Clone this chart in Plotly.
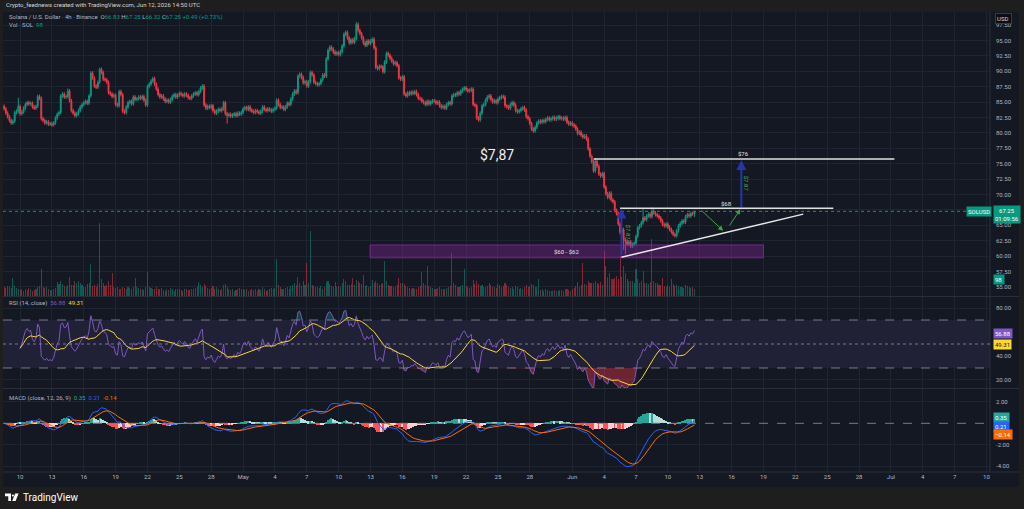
import numpy as np
import pandas as pd
import plotly.graph_objects as go
from plotly.subplots import make_subplots

# ---------------- DATA (4h candles, SOL/USD) ----------------
START = "2026-04-08 12:00"
FIRST_OPEN = 84.3

closes = [
    83.9, 83.2, 82.6,                                   # Apr 8
    82.0, 81.6, 81.9, 83.3, 83.5, 84.3,                 # Apr 9
    83.1, 83.4, 84.0, 84.6, 84.9, 84.7,                 # Apr 10
    84.8, 84.2, 84.0, 84.3, 85.9, 85.6,                 # Apr 11
    82.3, 82.0, 81.6, 81.8, 81.4, 81.5,                 # Apr 12
    81.3, 81.6, 82.4, 83.0, 83.3, 86.0,                 # Apr 13
    86.3, 85.8, 85.9, 86.8, 85.2, 83.6,                 # Apr 14
    83.2, 82.8, 83.1, 83.6, 84.2, 84.6,                 # Apr 15
    84.9, 85.1, 84.8, 86.0, 89.7, 88.9,                 # Apr 16
    87.6, 87.4, 88.2, 90.3, 89.8, 88.7,                 # Apr 17
    88.6, 88.2, 86.5, 86.3, 85.9, 86.1,                 # Apr 18
    84.6, 84.4, 86.7, 86.2, 83.5, 83.3,                 # Apr 19
    84.2, 84.9, 85.1, 84.7, 85.8, 85.4,                 # Apr 20
    85.5, 85.8, 85.6, 85.9, 85.3, 84.5,                 # Apr 21
    87.5, 87.9, 88.4, 88.8, 87.9, 87.1,                 # Apr 22
    86.2, 85.8, 86.0, 85.5, 85.1, 85.3,                 # Apr 23
    85.0, 85.4, 85.9, 86.2, 85.8, 86.1,                 # Apr 24
    86.4, 86.2, 86.0, 86.3, 86.1, 85.7,                 # Apr 25
    85.6, 86.0, 86.3, 86.5, 86.2, 86.7,                 # Apr 26
    87.3, 87.6, 84.5, 84.0, 84.3, 84.1,                 # Apr 27
    84.4, 83.6, 83.2, 83.5, 83.8, 83.6,                 # Apr 28
    83.9, 84.9, 83.1, 82.8, 83.0, 82.7,                 # Apr 29
    82.9, 83.1, 82.8, 83.2, 83.0, 83.3,                 # Apr 30
    83.9, 84.1, 83.8, 84.2, 83.7, 83.5,                 # May 1
    83.3, 83.6, 83.4, 83.2, 83.5, 84.2,                 # May 2
    83.8, 83.6, 83.9, 83.7, 83.5, 83.8,                 # May 3
    84.0, 85.3, 84.6, 84.1, 84.2, 83.8,                 # May 4
    84.2, 84.8, 84.6, 85.5, 86.3, 86.8,                 # May 5
    86.5, 89.2, 89.5, 89.0, 88.1, 88.3,                 # May 6
    87.6, 88.3, 89.8, 89.4, 88.2, 88.0,                 # May 7
    87.8, 88.0, 88.6, 89.4, 89.2, 92.0,                 # May 8
    93.4, 93.9, 93.6, 93.1, 92.8, 93.0,                 # May 9
    92.7, 93.2, 94.1, 96.0, 96.3, 95.4,                 # May 10
    94.6, 95.1, 94.7, 95.3, 97.6, 96.6,                 # May 11
    96.1, 95.4, 94.6, 94.2, 94.9, 94.5,                 # May 12
    94.9, 95.2, 93.8, 90.6, 90.4, 90.8,                 # May 13
    90.7, 89.9, 91.5, 92.9, 92.6, 92.1,                 # May 14
    91.6, 91.2, 91.4, 90.9, 88.9, 88.7,                 # May 15
    89.1, 86.3, 86.0, 86.5, 86.3, 86.6,                 # May 16
    86.4, 86.7, 86.2, 85.6, 85.5, 85.1,                 # May 17
    84.9, 84.6, 85.1, 84.7, 85.0, 85.2,                 # May 18
    85.1, 84.8, 85.0, 84.4, 84.1, 84.3,                 # May 19
    84.0, 84.6, 84.9, 84.7, 86.0, 86.2,                 # May 20
    86.1, 86.5, 86.3, 86.8, 87.1, 87.3,                 # May 21
    87.0, 86.8, 86.9, 87.1, 84.6, 84.4,                 # May 22
    82.4, 82.1, 83.2, 84.4, 84.6, 85.3,                 # May 23
    85.8, 86.0, 85.4, 85.0, 85.2, 84.9,                 # May 24
    85.5, 85.7, 85.9, 85.8, 84.4, 84.2,                 # May 25
    84.0, 84.6, 84.9, 84.5, 83.6, 83.4,                 # May 26
    83.6, 83.9, 84.1, 83.7, 82.6, 82.3,                 # May 27
    81.5, 80.6, 80.3, 80.9, 81.6, 81.9,                 # May 28
    81.7, 82.0, 81.8, 82.2, 82.4, 82.1,                 # May 29
    82.3, 82.5, 82.2, 82.4, 82.6, 82.3,                 # May 30
    82.4, 82.2, 82.5, 81.7, 81.4, 81.6,                 # May 31
    81.3, 81.1, 80.6, 79.9, 80.1, 79.6,                 # Jun 1
    79.3, 79.5, 79.0, 77.4, 76.2, 75.3,                 # Jun 2
    73.8, 75.4, 74.6, 73.3, 73.0, 73.4,                 # Jun 3
    71.2, 70.1, 69.5, 70.2, 69.1, 68.8,                 # Jun 4
    67.4, 66.9, 65.2, 63.8, 64.3, 62.7,                 # Jun 5
    62.4, 61.9, 62.3, 61.6, 61.9, 62.1,                 # Jun 6
    63.2, 64.6, 64.9, 65.4, 66.2, 65.9,                 # Jun 7
    66.5, 66.8, 66.4, 67.3, 67.0, 66.7,                 # Jun 8
    66.5, 66.2, 65.7, 65.1, 64.9, 65.2,                 # Jun 9
    64.7, 64.3, 63.9, 63.5, 63.3, 64.1,                 # Jun 10
    64.9, 65.3, 65.7, 65.5, 66.4, 66.7,                 # Jun 11
    66.5, 66.9, 66.83, 67.25,                           # Jun 12
]

volumes = [  # thousand SOL
    140, 120, 150,
    140, 120, 270, 150, 120, 100,
    90, 110, 80, 100, 90, 120,
    100, 80, 90, 110, 130, 150,
    400, 140, 120, 130, 100, 90,
    90, 110, 120, 210, 180, 220,
    180, 150, 140, 160, 290, 160,
    170, 230, 200, 220, 190, 160,
    140, 130, 180, 200, 480, 150,
    160, 140, 180, 1100, 260, 190,
    150, 170, 220, 160, 345, 130,
    120, 140, 110, 100, 130, 120,
    110, 130, 120, 100, 140, 270,
    130, 120, 100, 110, 90, 140,
    360, 140, 120, 110, 100, 130,
    110, 100, 120, 90, 80, 110,
    90, 120, 100, 80, 110, 100,
    100, 90, 80, 110, 100, 90,
    90, 110, 100, 120, 130, 210,
    160, 130, 180, 150, 120, 110,
    120, 150, 110, 130, 100, 90,
    110, 160, 180, 140, 100, 90,
    100, 80, 90, 110, 120, 100,
    110, 90, 100, 80, 90, 100,
    90, 110, 80, 100, 90, 130,
    100, 80, 90, 110, 120, 100,
    120, 555, 160, 130, 110, 100,
    120, 140, 110, 150, 170, 195,
    160, 285, 200, 150, 220, 170,
    495, 200, 975, 160, 150, 140,
    130, 120, 150, 110, 140, 210,
    220, 180, 150, 130, 210, 140,
    150, 140, 195, 250, 220, 160,
    170, 180, 270, 160, 240, 220,
    200, 180, 315, 150, 160, 140,
    150, 240, 200, 230, 190, 170,
    180, 200, 525, 220, 170, 150,
    150, 130, 140, 160, 270, 190,
    200, 180, 150, 130, 120, 110,
    120, 110, 100, 130, 150, 360,
    200, 170, 450, 150, 130, 120,
    110, 100, 120, 130, 110, 100,
    110, 120, 130, 150, 645, 200,
    160, 140, 130, 150, 170, 405,
    150, 130, 120, 140, 240, 180,
    220, 180, 150, 160, 140, 130,
    150, 200, 170, 140, 130, 120,
    180, 160, 140, 150, 200, 170,
    130, 120, 140, 110, 150, 130,
    110, 120, 100, 130, 160, 140,
    150, 180, 160, 130, 140, 255,
    90, 100, 80, 110, 90, 80,
    80, 70, 90, 80, 70, 85,
    90, 80, 100, 110, 90, 80,
    100, 120, 150, 210, 130, 160,
    495, 180, 160, 225, 200, 190,
    190, 220, 200, 180, 210, 170,
    675, 450, 280, 345, 260, 250,
    270, 300, 260, 600, 280, 450,
    350, 255, 230, 220, 225, 200,
    405, 250, 200, 220, 375, 190,
    200, 180, 210, 855, 220, 200,
    190, 170, 160, 270, 150, 140,
    160, 140, 255, 180, 150, 170,
    150, 140, 130, 120, 160, 150,
    140, 120, 130, 98,
]

WICK = 0.3
high_extremes = {"2026-04-09 20:00": 85.7, "2026-04-14 12:00": 87.2, "2026-05-11 16:00": 98.0,
                 "2026-06-03 04:00": 75.9, "2026-06-08 12:00": 67.9, "2026-06-07 16:00": 67.6,
                 "2026-06-12 12:00": 67.25}
low_extremes = {"2026-04-29 12:00": 81.5, "2026-05-23 04:00": 81.8, "2026-06-05 20:00": 61.0,
                "2026-06-06 00:00": 60.3, "2026-06-12 12:00": 66.32}

# x-axis ticks
tick_dates = ["2026-04-10", "2026-04-13", "2026-04-16", "2026-04-19", "2026-04-22", "2026-04-25",
              "2026-04-28", "2026-05-01", "2026-05-04", "2026-05-07", "2026-05-10", "2026-05-13",
              "2026-05-16", "2026-05-19", "2026-05-22", "2026-05-25", "2026-05-28", "2026-06-01",
              "2026-06-04", "2026-06-07", "2026-06-10", "2026-06-13", "2026-06-16", "2026-06-19",
              "2026-06-22", "2026-06-25", "2026-06-28", "2026-07-01", "2026-07-04", "2026-07-07",
              "2026-07-10"]
tick_labels = ["10", "13", "16", "19", "22", "25", "28", "May", "4", "7", "10", "13", "16", "19",
               "22", "25", "28", "Jun", "4", "7", "10", "13", "16", "19", "22", "25", "28", "Jul",
               "4", "7", "10"]
price_ticks = [55.0, 57.5, 60.0, 62.5, 65.0, 67.5, 70.0, 72.5, 75.0, 77.5, 80.0, 82.5, 85.0,
               87.5, 90.0, 92.5, 95.0, 97.5]
price_hidden = [67.5]   # label covered by the last-price tag in the reference
rsi_ticks = [20, 40, 60, 80]
macd_ticks = [-4, -2, 2]

# drawings
LEVEL_TARGET = 75.75
LEVEL_RES = 67.75
ZONE = (59.7, 61.8)
SUPPORT = (("2026-06-05 15:00", 59.8), ("2026-06-22 18:00", 66.8))

# ---------------- DERIVED ----------------
assert len(closes) == len(volumes)
ts = pd.date_range(START, periods=len(closes), freq="4h")
c = np.array(closes, dtype=float)
o = np.concatenate([[FIRST_OPEN], c[:-1]])
hi = np.maximum(o, c) + WICK
lo = np.minimum(o, c) - WICK
tindex = {t.strftime("%Y-%m-%d %H:%M"): i for i, t in enumerate(ts)}
for k, v in high_extremes.items():
    hi[tindex[k]] = max(v, max(o[tindex[k]], c[tindex[k]]))
for k, v in low_extremes.items():
    lo[tindex[k]] = min(v, min(o[tindex[k]], c[tindex[k]]))

s = pd.Series(c)
d = s.diff()
ag = d.clip(lower=0).ewm(alpha=1 / 14, adjust=True, min_periods=9).mean()
al = (-d.clip(upper=0)).ewm(alpha=1 / 14, adjust=True, min_periods=9).mean()
rsi = 100 * ag / (ag + al)
rsi_ma = rsi.rolling(14, min_periods=1).mean()
macd = s.ewm(span=12, adjust=False).mean() - s.ewm(span=26, adjust=False).mean()
signal = macd.ewm(span=9, adjust=False).mean()
hist = macd - signal

UP, DN = "#089981", "#f23645"
vol_cols = ["rgba(8,153,129,0.5)" if cc >= oo else "rgba(242,54,69,0.5)" for oo, cc in zip(o, c)]
hcols = []
for i, h in enumerate(hist):
    p = hist.iloc[i - 1] if i > 0 else h
    if h >= 0:
        hcols.append("#26a69a" if h >= p else "#b2dfdb")
    else:
        hcols.append("#ffcdd2" if h > p else "#ff5252")

# ---------------- LAYOUT HELPERS ----------------
W, H = 1024, 509
ML, MR, MT, MB = 3, 34, 12, 37
PW, PH = W - ML - MR, H - MT - MB


def px(x):
    return (x - ML) / PW


def py(y):
    return (H - MB - y) / PH


BG = "#141823"
OUT = "#1e1e1e"
GRID = "#1f2431"
TXT = "#b2b5be"
FONT = "Roboto, Arial, sans-serif"

fig = make_subplots(rows=3, cols=1, shared_xaxes=True, vertical_spacing=0,
                    specs=[[{"secondary_y": True}], [{}], [{}]])

# volume (primary, hidden axis) and candles (secondary = price scale)
fig.add_trace(go.Bar(x=ts, y=volumes, marker_color=vol_cols, marker_line_width=0,
                     width=4 * 3600 * 1000 * 0.6, hoverinfo="skip"), row=1, col=1, secondary_y=False)
fig.add_trace(go.Candlestick(x=ts, open=o, high=hi, low=lo, close=c,
                             increasing=dict(line=dict(color=UP, width=1), fillcolor=UP),
                             decreasing=dict(line=dict(color=DN, width=1), fillcolor=DN),
                             whiskerwidth=0, hoverinfo="skip"), row=1, col=1, secondary_y=True)

# RSI
rsi_lo = np.where(rsi < 30, rsi, 30)
rsi_hi = np.where(rsi > 70, rsi, 70)
fig.add_trace(go.Scatter(x=ts, y=[30] * len(ts), mode="lines", line=dict(width=0), hoverinfo="skip"), row=2, col=1)
fig.add_trace(go.Scatter(x=ts, y=rsi_lo, mode="lines", line=dict(width=0), fill="tonexty",
                         fillcolor="rgba(242,54,69,0.40)", hoverinfo="skip"), row=2, col=1)
fig.add_trace(go.Scatter(x=ts, y=[70] * len(ts), mode="lines", line=dict(width=0), hoverinfo="skip"), row=2, col=1)
fig.add_trace(go.Scatter(x=ts, y=rsi_hi, mode="lines", line=dict(width=0), fill="tonexty",
                         fillcolor="rgba(8,153,129,0.35)", hoverinfo="skip"), row=2, col=1)
fig.add_trace(go.Scatter(x=ts, y=rsi, mode="lines", line=dict(color="#7e57c2", width=1), hoverinfo="skip"), row=2, col=1)
fig.add_trace(go.Scatter(x=ts, y=rsi_ma, mode="lines", line=dict(color="#fdd835", width=1), hoverinfo="skip"), row=2, col=1)

# MACD
fig.add_trace(go.Bar(x=ts, y=hist, marker_color=hcols, marker_line_width=0,
                     width=4 * 3600 * 1000 * 0.7, hoverinfo="skip"), row=3, col=1)
fig.add_trace(go.Scatter(x=ts, y=macd, mode="lines", line=dict(color="#2962ff", width=1), hoverinfo="skip"), row=3, col=1)
fig.add_trace(go.Scatter(x=ts, y=signal, mode="lines", line=dict(color="#ff6d00", width=1), hoverinfo="skip"), row=3, col=1)

xr = ["2026-04-08 09:30", "2026-07-10 08:00"]
for ax in ["xaxis", "xaxis2", "xaxis3"]:
    fig.layout[ax].update(domain=[0, 1], range=xr, tickmode="array", tickvals=tick_dates, ticktext=tick_labels,
                          showgrid=True, gridcolor=GRID, gridwidth=1, zeroline=False,
                          showticklabels=(ax == "xaxis3"), tickfont=dict(size=6, color=TXT, family=FONT),
                          rangeslider=dict(visible=False), showline=False, ticks="")

fig.update_layout(
    width=W, height=H, margin=dict(l=ML, r=MR, t=MT, b=MB),
    paper_bgcolor=OUT, plot_bgcolor=BG, showlegend=False, bargap=0,
    font=dict(family=FONT, color=TXT, size=6),
    yaxis=dict(domain=[py(296), 1], range=[0, 284 * 15], visible=False, showgrid=False),
    yaxis2=dict(domain=[py(296), 1], range=[53.51, 99.61], side="right", tickmode="array",
                tickvals=price_ticks,
                ticktext=["" if v in price_hidden else f"{v:.2f}" for v in price_ticks],
                showgrid=True, gridcolor=GRID, zeroline=False, ticks="", ticklabelstandoff=5,
                tickfont=dict(size=6, color=TXT)),
    yaxis3=dict(domain=[py(388), py(297)], range=[13.3, 89.2], side="right", tickmode="array",
                tickvals=rsi_ticks, ticktext=[f"{v:.2f}" for v in rsi_ticks], showgrid=True,
                gridcolor=GRID, zeroline=False, ticks="", ticklabelstandoff=5, tickfont=dict(size=6, color=TXT)),
    yaxis4=dict(domain=[0, py(389)], range=[-4.53, 3.19], side="right", tickmode="array",
                tickvals=macd_ticks, ticktext=[f"{v:.2f}" for v in macd_ticks], showgrid=True,
                gridcolor=GRID, zeroline=False, ticks="", ticklabelstandoff=5, tickfont=dict(size=6, color=TXT)),
)

shapes = []
# chart frame background
shapes.append(dict(type="rect", xref="paper", yref="paper", x0=px(3), x1=px(1019), y0=py(487), y1=py(12),
                   fillcolor=BG, line=dict(width=0), layer="below"))
# pane separators / borders
for yy in (296.5, 388.5, 472):
    shapes.append(dict(type="line", xref="paper", yref="paper", x0=px(3), x1=px(1019), y0=py(yy), y1=py(yy),
                       line=dict(color="#2a2e39", width=1)))
shapes.append(dict(type="line", xref="paper", yref="paper", x0=1, x1=1, y0=0, y1=1,
                   line=dict(color="#2a2e39", width=1)))
# RSI band
shapes.append(dict(type="rect", xref="x2 domain", yref="y3", x0=0, x1=1, y0=30, y1=70,
                   fillcolor="rgba(126,87,194,0.12)", line=dict(width=0), layer="below"))
for lvl, dsh in ((70, "dash"), (50, "dot"), (30, "dash")):
    shapes.append(dict(type="line", xref="x2 domain", yref="y3", x0=0, x1=1, y0=lvl, y1=lvl,
                       line=dict(color="#787b86", width=1, dash=dsh)))
# MACD zero line
shapes.append(dict(type="line", xref="x3 domain", yref="y4", x0=0, x1=1, y0=0, y1=0,
                   line=dict(color="#787b86", width=1, dash="dash")))
# current price line
shapes.append(dict(type="line", xref="x domain", yref="y2", x0=0, x1=1, y0=c[-1], y1=c[-1],
                   line=dict(color=UP, width=1, dash="dot")))
# drawings
shapes.append(dict(type="rect", xref="x", yref="y2", x0="2026-05-12 23:00", x1="2026-06-19 00:00",
                   y0=ZONE[0], y1=ZONE[1], fillcolor="rgba(156,39,176,0.32)",
                   line=dict(color="rgba(156,39,176,0.7)", width=1)))
shapes.append(dict(type="line", xref="x", yref="y2", x0="2026-06-03 00:00", x1="2026-07-01 08:00",
                   y0=LEVEL_TARGET, y1=LEVEL_TARGET, line=dict(color="#e0e0e0", width=1.5)))
shapes.append(dict(type="line", xref="x", yref="y2", x0="2026-06-05 12:00", x1="2026-06-25 14:00",
                   y0=LEVEL_RES, y1=LEVEL_RES, line=dict(color="#e0e0e0", width=1.5)))
shapes.append(dict(type="line", xref="x", yref="y2", x0=SUPPORT[0][0], x1=SUPPORT[1][0],
                   y0=SUPPORT[0][1], y1=SUPPORT[1][1], line=dict(color="#e8e8e8", width=1.5)))


# TradingView logo
def poly(pts):
    return "M " + " L ".join(f"{px(a)},{py(b)}" for a, b in pts) + " Z"


shapes.append(dict(type="path", xref="paper", yref="paper",
                   path=poly([(5, 493.5), (11, 493.5), (11, 501), (8.3, 501), (8.3, 496.2), (5, 496.2)]),
                   fillcolor="white", line=dict(width=0)))
shapes.append(dict(type="circle", xref="paper", yref="paper", x0=px(11.8), x1=px(14), y0=py(496.6), y1=py(494.4),
                   fillcolor="white", line=dict(width=0)))
shapes.append(dict(type="path", xref="paper", yref="paper",
                   path=poly([(15.2, 493.5), (18.6, 493.5), (15.6, 501), (12.2, 501)]),
                   fillcolor="white", line=dict(width=0)))
fig.update_layout(shapes=shapes)

ann = []


def txt(x, y, t, size=6, color=TXT, **kw):
    d = dict(x=px(x), y=py(y), xref="paper", yref="paper", text=t, showarrow=False,
             xanchor="left", yanchor="middle", font=dict(size=size, color=color, family=FONT))
    d.update(kw)
    ann.append(d)


def tag(x, y, t, bg, fc="white", yref="paper", **kw):
    d = dict(x=px(x), y=(py(y) if yref == "paper" else y), xref="paper", yref=yref, text=t,
             showarrow=False, xanchor="left", yanchor="middle", bgcolor=bg, borderpad=1,
             font=dict(size=6, color=fc, family=FONT))
    d.update(kw)
    ann.append(d)


G = "#089981"
txt(4, 5, "Crypto_feednews created with TradingView.com, Jun 12, 2026 14:50 UTC", size=6, color="#d1d4dc")
txt(7, 17, "Solana / U.S. Dollar · 4h · Binance  "
           f"O<span style='color:{G}'>66.83</span> H<span style='color:{G}'>67.25</span> "
           f"L<span style='color:{G}'>66.32</span> C<span style='color:{G}'>67.25</span> "
           f"<span style='color:{G}'>+0.49 (+0.73%)</span>")
txt(7, 25, f"Vol · SOL  <span style='color:{G}'>98</span>")
txt(7, 303, "RSI (14, close)  <span style='color:#7e57c2'>56.88</span>  <span style='color:#fdd835'>49.31</span>")
txt(7, 398, "MACD (close, 12, 26, 9)  <span style='color:#26a69a'>0.35</span>  "
            "<span style='color:#2962ff'>0.21</span>  <span style='color:#ff6d00'>-0.14</span>")
txt(21, 497.5, "TradingView", size=10, color="white")

# right-side tags
tag(995, 18, "USD ", "#0c0e15", fc="#d1d4dc", bordercolor="#363a45", borderwidth=1)
tag(992, c[-1], "SOLUSD", G, yref="y2", xanchor="right")
tag(993, 214, "67.25<br>01:09:56", G)
tag(993, 279.5, "98 ", G)
tag(993, 333, "56.88", "#7e57c2")
tag(993, 345, "49.31", "#fdd835", fc="#131722")
tag(993, 417.5, "0.35 ", "#26a69a")
tag(993, 426, "0.21 ", "#2962ff")
tag(993, 434.5, "−0.14", "#ff6d00")

# drawing texts
ann.append(dict(x="2026-05-24 22:00", y=76.4, xref="x", yref="y2", text="$7,87", showarrow=False,
                font=dict(size=14, color="#f0f0f0", family=FONT)))
ann.append(dict(x="2026-06-17 02:00", y=LEVEL_TARGET, xref="x", yref="y2", text="$76", showarrow=False,
                yshift=5, font=dict(size=6, color="#e0e0e0", family=FONT)))
ann.append(dict(x="2026-06-15 12:00", y=LEVEL_RES, xref="x", yref="y2", text="$68", showarrow=False,
                yshift=5, font=dict(size=6, color="#e0e0e0", family=FONT)))
ann.append(dict(x="2026-05-31 12:00", y=sum(ZONE) / 2, xref="x", yref="y2", text="$60 - $62",
                showarrow=False, font=dict(size=6, color="#e0e0e0", family=FONT)))
# blue arrows
for xa, y0, y1 in (("2026-06-05 15:00", 59.9, 67.7), ("2026-06-16 22:00", 67.7, 75.6)):
    ann.append(dict(x=xa, y=y1, ax=xa, ay=y0, xref="x", yref="y2", axref="x", ayref="y2", text="",
                    showarrow=True, arrowhead=2, arrowsize=1, arrowwidth=2, arrowcolor="#2436a8"))
ann.append(dict(x="2026-06-06 06:00", y=63.8, xref="x", yref="y2", text="$7.87", showarrow=False,
                textangle=90, font=dict(size=6, color="#4caf50", family=FONT)))
ann.append(dict(x="2026-06-17 10:00", y=71.8, xref="x", yref="y2", text="$7.87", showarrow=False,
                textangle=90, font=dict(size=6, color="#4caf50", family=FONT)))
# green arrows
for (t0, p0), (t1, p1) in ((("2026-06-13 01:00", 67.6), ("2026-06-15 05:00", 64.1)),
                           (("2026-06-15 17:00", 64.7), ("2026-06-16 20:00", 67.6))):
    ann.append(dict(x=t1, y=p1, ax=t0, ay=p0, xref="x", yref="y2", axref="x", ayref="y2", text="",
                    showarrow=True, arrowhead=2, arrowsize=1, arrowwidth=1, arrowcolor="#43a047"))

fig.update_layout(annotations=ann)
fig.write_html("out.html")
